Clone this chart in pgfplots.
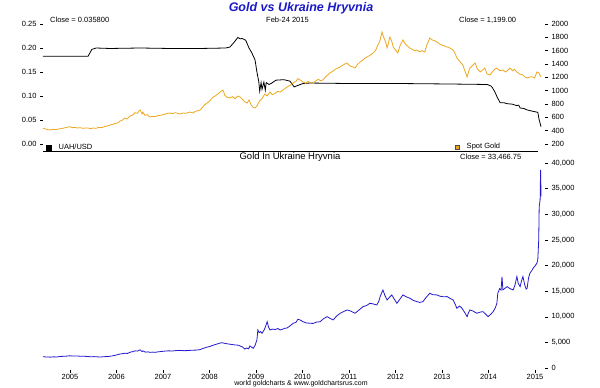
\documentclass[border=0pt]{standalone}
\usepackage{fontspec}
\setmainfont{Liberation Sans}
\usepackage{pgfplots}
\pgfplotsset{compat=1.18}
\definecolor{goldc}{RGB}{236,168,30}
\definecolor{bluec}{RGB}{35,25,205}
\definecolor{titleblue}{RGB}{25,25,200}
\pgfplotsset{
  common/.style={
    scale only axis, width=502pt,
    xmin=2004.42, xmax=2015.215,
    axis line style={draw=none},
    tick align=outside,
    major tick length=3pt,
    tick style={black, line width=0.5pt},
    /pgf/number format/assume math mode=true,
    ticklabel style={font=\fontsize{7.5}{8}\selectfont},
    scaled y ticks=false,
    clip=false,
  }
}
\begin{document}
\begin{tikzpicture}
\path[use as bounding box] (0pt,0pt) rectangle (600pt,-388pt);

% ---- top panel: UAH/USD (left axis)
\begin{axis}[common,
  at={(43pt,-18pt)}, anchor=north west, height=133pt,
  ymin=-0.01458, ymax=0.2625,
  ytick={0,0.05,0.1,0.15,0.2,0.25},
  ytick pos=left,
  yticklabel style={/pgf/number format/.cd, fixed, fixed zerofill, precision=2},
  xtick=\empty,
  legend style={at={(0.006,0.025)}, anchor=west, draw=none, fill=none,
    font=\fontsize{7.5}{8}\selectfont, inner sep=0pt,
    /tikz/every odd column/.append style={column sep=5pt}},
  legend image code/.code={\fill[black] (0pt,-2.3pt) rectangle (4.6pt,2.3pt);},
]
\addplot[black, line width=0.8pt] coordinates {
(2004.42,0.183) (2005.39,0.183) (2005.43,0.190) (2005.47,0.197) (2005.56,0.200)
(2005.86,0.199) (2006.51,0.200) (2007.15,0.199) (2007.80,0.199) (2008.35,0.200)
(2008.44,0.202) (2008.53,0.212) (2008.61,0.222) (2008.66,0.219) (2008.70,0.220)
(2008.78,0.216) (2008.85,0.200) (2008.91,0.190) (2008.98,0.175) (2009.02,0.150)
(2009.06,0.130) (2009.08,0.110) (2009.11,0.128) (2009.13,0.114) (2009.17,0.129)
(2009.20,0.112) (2009.22,0.128) (2009.28,0.124) (2009.34,0.127) (2009.43,0.133)
(2009.60,0.134) (2009.73,0.131) (2009.82,0.119) (2009.90,0.122) (2010.01,0.126)
(2010.16,0.127) (2011.02,0.126) (2012.10,0.126) (2013.17,0.125) (2013.97,0.124)
(2014.05,0.121) (2014.08,0.118) (2014.14,0.108) (2014.18,0.099) (2014.25,0.086)
(2014.33,0.086) (2014.40,0.084) (2014.51,0.083) (2014.61,0.080) (2014.65,0.081)
(2014.68,0.075) (2014.76,0.074) (2014.83,0.071) (2014.96,0.068) (2015.06,0.066)
(2015.09,0.050) (2015.13,0.036)
};
\addlegendentry{UAH/USD}
\end{axis}

% ---- top panel: Spot Gold (right axis)
\begin{axis}[common,
  at={(43pt,-18pt)}, anchor=north west, height=133pt,
  ymin=95, ymax=2090,
  ytick={200,400,...,2000},
  ytick pos=right, yticklabel pos=right,
  yticklabel style={/pgf/number format/1000 sep={}},
  xtick=\empty,
  legend style={at={(0.82,0.03)}, anchor=west, draw=none, fill=none,
    font=\fontsize{7.5}{8}\selectfont, inner sep=0pt,
    /tikz/every odd column/.append style={column sep=5pt}},
  legend image code/.code={\fill[goldc, draw=black!70, line width=0.3pt] (0pt,-2.3pt) rectangle (4.6pt,2.3pt);},
]
\addplot[goldc, line width=0.8pt] coordinates {
(2004.42,435) (2004.48,425) (2004.53,415) (2004.57,410) (2004.63,420) (2004.69,415)
(2004.75,425) (2004.81,430) (2004.87,440) (2004.93,450) (2005.00,460) (2005.05,445)
(2005.10,450) (2005.16,440) (2005.22,445) (2005.28,435) (2005.34,440) (2005.39,440)
(2005.44,430) (2005.50,440) (2005.56,435) (2005.62,450) (2005.68,445) (2005.74,460)
(2005.80,470) (2005.86,485) (2005.92,495) (2005.98,510) (2006.03,515) (2006.08,545)
(2006.13,560) (2006.18,590) (2006.23,575) (2006.29,620) (2006.35,635) (2006.40,670)
(2006.45,660) (2006.49,700) (2006.51,710) (2006.55,650) (2006.57,680) (2006.61,630)
(2006.66,640) (2006.72,605) (2006.77,615) (2006.83,610) (2006.89,625) (2006.94,630)
(2007.00,640) (2007.05,650) (2007.10,660) (2007.15,665) (2007.20,655) (2007.26,670)
(2007.32,660) (2007.37,650) (2007.43,665) (2007.49,660) (2007.54,670) (2007.58,680)
(2007.64,665) (2007.70,690) (2007.75,700) (2007.80,710) (2007.86,760) (2007.90,790)
(2007.95,815) (2008.01,850) (2008.07,900) (2008.12,920) (2008.18,950) (2008.23,980)
(2008.27,1000) (2008.29,1010) (2008.33,930) (2008.38,900) (2008.44,890) (2008.49,910)
(2008.55,880) (2008.61,920) (2008.66,905) (2008.72,860) (2008.76,830) (2008.81,815)
(2008.85,860) (2008.90,780) (2008.94,750) (2008.98,740) (2009.03,780) (2009.08,850)
(2009.12,870) (2009.15,905) (2009.19,950) (2009.24,920) (2009.30,980) (2009.35,940)
(2009.41,960) (2009.47,990) (2009.52,980) (2009.58,1010) (2009.62,1030) (2009.67,1055)
(2009.73,1080) (2009.80,1115) (2009.86,1140) (2009.90,1180) (2009.95,1160) (2010.01,1130)
(2010.07,1110) (2010.12,1140) (2010.17,1120) (2010.23,1115) (2010.29,1150) (2010.34,1170)
(2010.39,1150) (2010.44,1160) (2010.50,1210) (2010.55,1240) (2010.59,1265) (2010.65,1290)
(2010.70,1320) (2010.76,1340) (2010.81,1355) (2010.86,1380) (2010.91,1400) (2010.96,1415)
(2011.02,1370) (2011.07,1360) (2011.13,1340) (2011.18,1390) (2011.24,1430) (2011.30,1460)
(2011.35,1490) (2011.40,1510) (2011.45,1530) (2011.52,1565) (2011.57,1600) (2011.62,1685)
(2011.66,1740) (2011.69,1820) (2011.71,1880) (2011.74,1810) (2011.77,1760) (2011.80,1700)
(2011.82,1640) (2011.85,1720) (2011.88,1805) (2011.92,1740) (2011.95,1655) (2012.00,1610)
(2012.05,1565) (2012.10,1680) (2012.16,1760) (2012.21,1700) (2012.26,1670) (2012.31,1640)
(2012.36,1620) (2012.41,1600) (2012.46,1610) (2012.52,1580) (2012.57,1600) (2012.63,1580)
(2012.68,1700) (2012.74,1790) (2012.79,1760) (2012.84,1750) (2012.89,1730) (2012.95,1700)
(2013.01,1680) (2013.06,1670) (2013.11,1655) (2013.17,1640) (2013.24,1610) (2013.28,1560)
(2013.32,1490) (2013.38,1440) (2013.45,1385) (2013.49,1300) (2013.54,1205) (2013.57,1280)
(2013.60,1340) (2013.66,1380) (2013.71,1415) (2013.76,1330) (2013.82,1280) (2013.87,1310)
(2013.92,1340) (2013.97,1250) (2014.03,1235) (2014.08,1280) (2014.13,1320) (2014.18,1340)
(2014.24,1300) (2014.31,1310) (2014.37,1280) (2014.42,1310) (2014.46,1340) (2014.52,1300)
(2014.56,1320) (2014.61,1280) (2014.67,1250) (2014.74,1235) (2014.79,1200) (2014.84,1190)
(2014.89,1205) (2014.94,1210) (2014.99,1190) (2015.04,1280) (2015.08,1270) (2015.11,1230)
(2015.13,1205)
};
\addlegendentry{Spot Gold}
\end{axis}

% ---- bottom panel: Gold in UAH
\begin{axis}[common,
  at={(43pt,-151pt)}, anchor=north west, height=219pt,
  ymin=-390, ymax=42341,
  ytick={0,5000,...,40000},
  ytick pos=right, yticklabel pos=right,
  yticklabel style={/pgf/number format/1000 sep={,}},
  xtick={2005,2006,...,2015},
  xticklabels={2005,2006,2007,2008,2009,2010,2011,2012,2013,2014,2015},
  xtick pos=bottom,
  xticklabel style={inner sep=1pt},
]
\addplot[bluec, line width=0.8pt] coordinates {
(2004.42,2200) (2004.50,2150) (2004.57,2120) (2004.65,2180) (2004.72,2150) (2004.78,2250)
(2004.86,2280) (2004.93,2320) (2005.00,2380) (2005.08,2330) (2005.15,2350) (2005.22,2300)
(2005.30,2290) (2005.38,2250) (2005.43,2200) (2005.52,2220) (2005.58,2180) (2005.65,2150)
(2005.72,2200) (2005.80,2240) (2005.86,2290) (2005.93,2400) (2006.00,2550) (2006.06,2700)
(2006.12,2780) (2006.18,2870) (2006.24,2850) (2006.30,3100) (2006.35,3200) (2006.40,3350)
(2006.45,3300) (2006.51,3550) (2006.55,3200) (2006.57,3350) (2006.62,3100) (2006.68,3150)
(2006.72,3050) (2006.78,3100) (2006.83,3050) (2006.89,3150) (2006.94,3200) (2007.04,3300)
(2007.12,3350) (2007.20,3320) (2007.28,3400) (2007.37,3420) (2007.45,3380) (2007.52,3400)
(2007.58,3440) (2007.66,3480) (2007.73,3500) (2007.80,3600) (2007.87,3850) (2007.94,4050)
(2008.01,4200) (2008.08,4450) (2008.15,4650) (2008.22,4850) (2008.27,4940) (2008.33,4800)
(2008.40,4700) (2008.47,4600) (2008.55,4500) (2008.62,4450) (2008.66,4300) (2008.71,4100)
(2008.76,3700) (2008.80,3900) (2008.84,3750) (2008.87,4300) (2008.90,4100) (2008.94,3850)
(2008.98,4400) (2009.02,5470) (2009.04,7420) (2009.07,6900) (2009.10,7100) (2009.13,6780)
(2009.18,7500) (2009.21,8200) (2009.24,9040) (2009.27,8000) (2009.30,7420) (2009.36,7600)
(2009.41,7500) (2009.47,7700) (2009.52,7420) (2009.58,7600) (2009.62,7750) (2009.67,7810)
(2009.73,8200) (2009.80,8730) (2009.86,8900) (2009.90,9500) (2009.95,9370) (2010.01,9040)
(2010.08,8800) (2010.16,8730) (2010.23,8700) (2010.30,8950) (2010.38,9040) (2010.45,9600)
(2010.53,10020) (2010.59,9700) (2010.66,9370) (2010.73,10100) (2010.81,10680) (2010.88,11000)
(2010.96,11330) (2011.04,11100) (2011.13,10680) (2011.20,11200) (2011.30,11970) (2011.38,12200)
(2011.45,12630) (2011.52,12500) (2011.60,12300) (2011.64,13000) (2011.67,13930) (2011.71,14800)
(2011.73,15230) (2011.77,14200) (2011.82,13280) (2011.87,13800) (2011.92,14260) (2011.97,13500)
(2012.03,12630) (2012.10,13500) (2012.16,14260) (2012.23,13900) (2012.31,13610) (2012.38,13200)
(2012.46,12950) (2012.52,12800) (2012.59,12950) (2012.66,13800) (2012.74,14590) (2012.80,14300)
(2012.89,14260) (2012.96,14000) (2013.03,13900) (2013.11,13930) (2013.17,13600) (2013.24,13280)
(2013.28,12500) (2013.32,11650) (2013.38,12100) (2013.43,11650) (2013.49,10800) (2013.54,10020)
(2013.57,10800) (2013.60,11330) (2013.67,11100) (2013.75,10680) (2013.82,10900) (2013.88,11000)
(2013.94,10500) (2013.99,10020) (2014.05,10500) (2014.10,11000) (2014.15,11800) (2014.18,12630)
(2014.20,14590) (2014.24,15500) (2014.27,15200) (2014.29,17840) (2014.31,15230) (2014.36,15600)
(2014.40,15880) (2014.46,15500) (2014.53,15230) (2014.57,16200) (2014.61,17840) (2014.64,16500)
(2014.68,15880) (2014.71,17000) (2014.74,17840) (2014.78,16200) (2014.81,15400) (2014.83,15550)
(2014.86,17500) (2014.89,18490) (2014.93,19000) (2014.96,19470) (2015.00,19900) (2015.04,20440)
(2015.06,21090) (2015.08,25000) (2015.09,31500) (2015.11,32800) (2015.12,38670) (2015.13,33466.75)
};
\end{axis}

% divider and texts
\draw[black, line width=0.8pt] (43pt,-151pt) -- (538pt,-151pt);
\node[font=\fontsize{12.5}{14}\selectfont\bfseries\itshape, text=titleblue] at (301pt,-8pt) {Gold vs Ukraine Hryvnia};
\node[font=\fontsize{7.5}{8}\selectfont, anchor=west, inner sep=0pt] at (50pt,-20pt) {Close = 0.035800};
\node[font=\fontsize{7.5}{8}\selectfont, anchor=west, inner sep=0pt] at (266pt,-20pt) {Feb-24 2015};
\node[font=\fontsize{7.5}{8}\selectfont, anchor=west, inner sep=0pt] at (459pt,-20pt) {Close = 1,199.00};
\node[font=\fontsize{9.5}{10}\selectfont, inner sep=0pt] at (290pt,-157pt) {Gold In Ukraine Hryvnia};
\node[font=\fontsize{7.5}{8}\selectfont, anchor=west, inner sep=0pt] at (460pt,-157pt) {Close = 33,466.75};
\node[font=\fontsize{7}{8}\selectfont, inner sep=0pt] at (301pt,-384pt) {world goldcharts \& www.goldchartsrus.com};
\end{tikzpicture}
\end{document}
